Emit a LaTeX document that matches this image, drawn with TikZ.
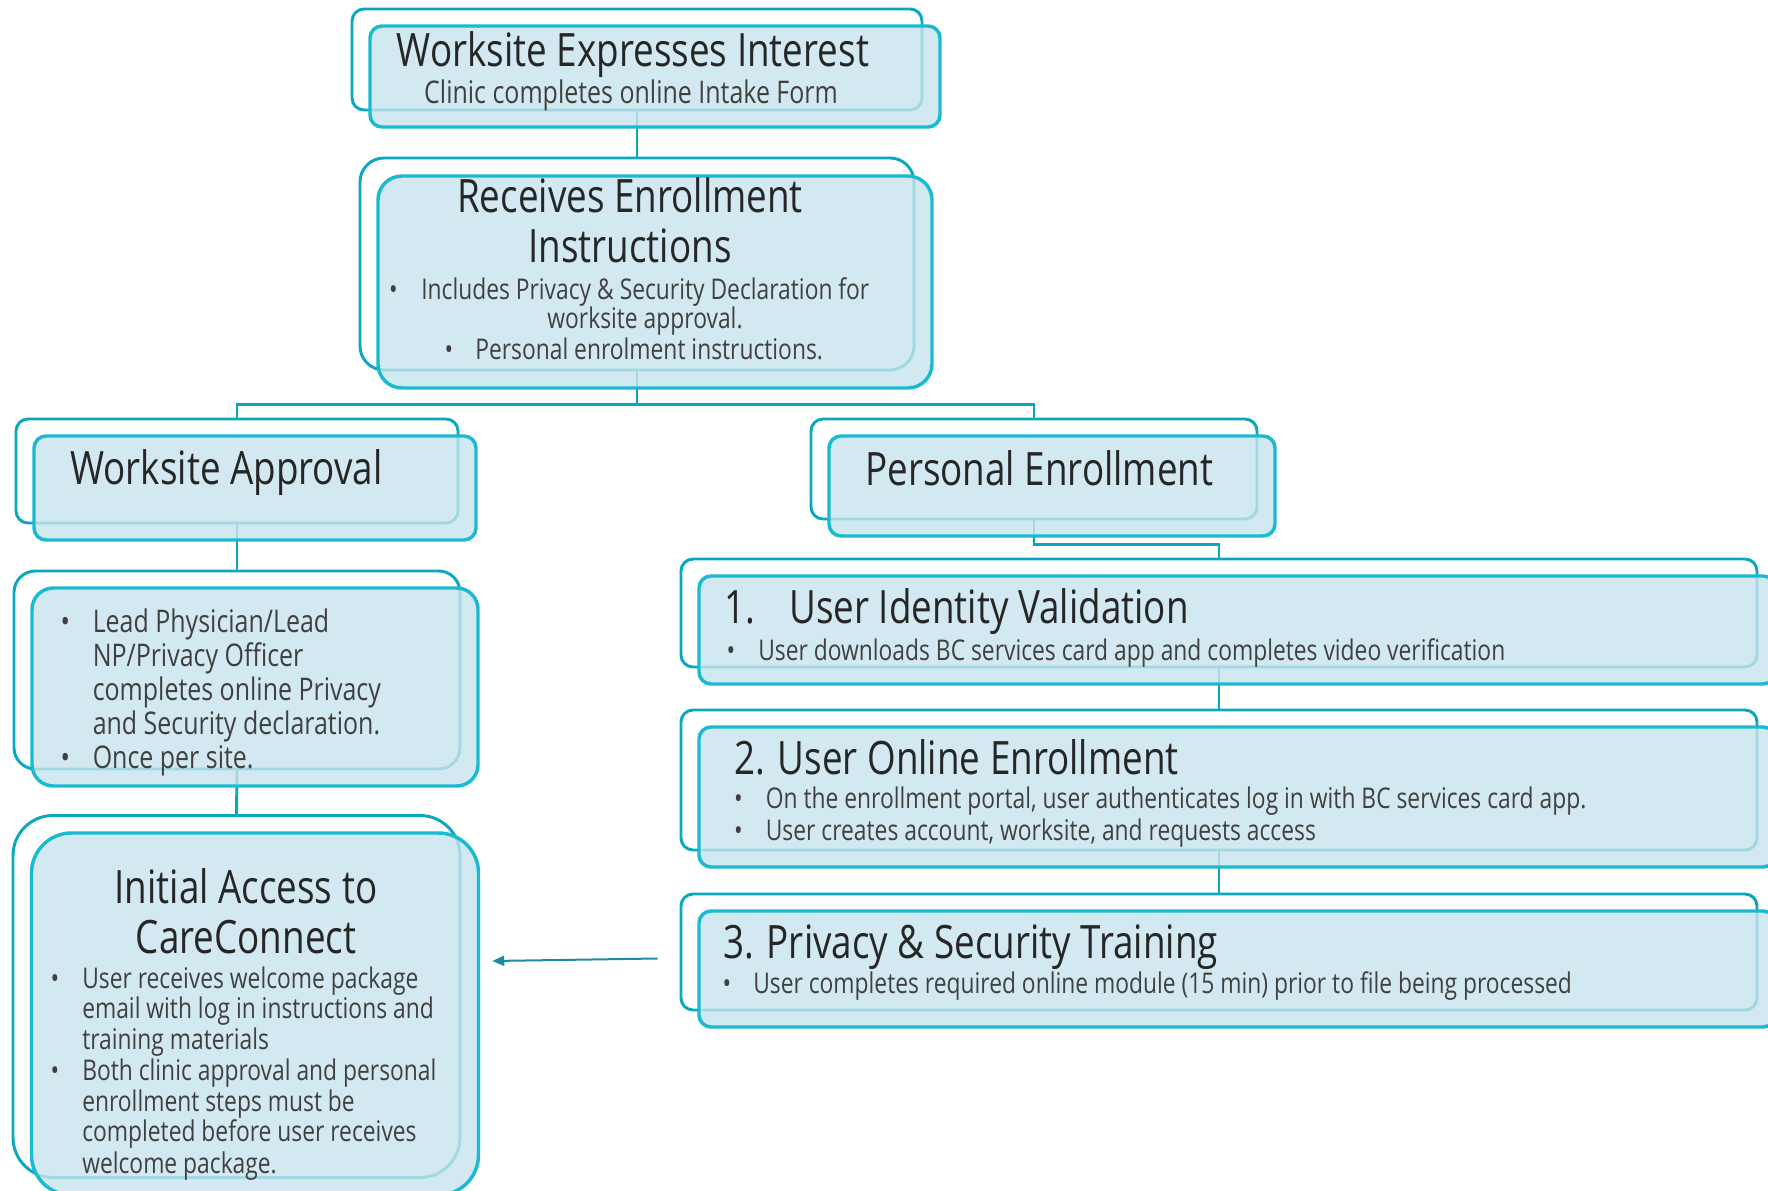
\documentclass[tikz,border=0pt]{standalone}
\usepackage{fontspec}
\setmainfont{Open Sans}[FakeStretch=0.8]
\usetikzlibrary{arrows.meta}

\definecolor{edgeback}{RGB}{10,168,192}
\definecolor{edgefront}{RGB}{26,186,210}
\definecolor{boxfill}{RGB}{200,228,238}
\definecolor{arrowcol}{RGB}{30,140,160}
\definecolor{inkdark}{RGB}{38,38,38}
\definecolor{inkbody}{RGB}{64,64,64}

\newcommand{\headfont}{\fontsize{34.5}{40}\selectfont}
\newcommand{\leadfont}{\fontsize{23.4}{28}\selectfont}
\newcommand{\notefont}{\fontsize{21.4}{26}\selectfont}
\newcommand{\stepfont}{\fontsize{21.4}{26}\selectfont}

\begin{document}
\begin{tikzpicture}[x=0.75pt,y=0.75pt,yscale=-1,xscale=1,
  backbox/.style={draw=edgeback, line width=2.2pt, rectangle, inner sep=0pt},
  frontbox/.style={draw=edgefront, line width=2.6pt, fill=boxfill, fill opacity=0.8, rectangle, inner sep=0pt},
  link/.style={draw=edgeback, line width=2.2pt},
  flowarrow/.style={draw=arrowcol, line width=1.5pt, -{Triangle[length=9pt,width=7.5pt]}},
  boxhead/.style={font=\headfont, text=inkdark, inner sep=0pt},
  boxlead/.style={font=\leadfont, text=inkbody, inner sep=0pt},
  boxnote/.style={font=\notefont, text=inkbody, inner sep=0pt},
  boxstep/.style={font=\stepfont, text=inkbody, inner sep=0pt}]
\fill[white] (0,0) rectangle (1768,1191);
\useasboundingbox (0,0) rectangle (1768,1191);

%Rounded Rect, back outlines
\node [backbox, rounded corners=9pt, minimum width=427.5pt, minimum height=75.75pt] (interestB) at (637,59.5) {};
\node [backbox, rounded corners=18pt, minimum width=415.5pt, minimum height=159pt] (receivesB) at (637,264) {};
\node [backbox, rounded corners=9pt, minimum width=331.5pt, minimum height=78pt] (approvalB) at (237,471) {};
\node [backbox, rounded corners=16pt, minimum width=334.5pt, minimum height=148.5pt] (declareB) at (237,670) {};
\node [backbox, rounded corners=30pt, minimum width=335.25pt, minimum height=271.5pt] (accessB) at (236.5,996.5) {};
\node [backbox, rounded corners=9pt, minimum width=334.5pt, minimum height=75pt] (personalB) at (1034,469) {};
\node [backbox, rounded corners=9pt, minimum width=807pt, minimum height=81pt] (identityB) at (1219,613) {};
\node [backbox, rounded corners=9pt, minimum width=807pt, minimum height=105pt] (onlineB) at (1219,780) {};
\node [backbox, rounded corners=9pt, minimum width=807pt, minimum height=87pt] (trainingB) at (1219,952) {};

%Straight Lines
\draw [link] (interestB.south) -- (receivesB.north);
\draw [link] (receivesB.south) -- ++(0,33) -| (approvalB.north);
\draw [link] (receivesB.south) -- ++(0,33) -| (personalB.north);
\draw [link] (approvalB.south) -- (declareB.north);
\draw [link] (declareB.south) -- (accessB.north);
\draw [link] (personalB.south) -- ++(0,24) -| (identityB.north);
\draw [link] (identityB.south) -- (onlineB.north);
\draw [link] (onlineB.south) -- (trainingB.north);

%Rounded Rect, front panels
\node [frontbox, rounded corners=9pt, minimum width=427.5pt, minimum height=75.75pt] (interestF) at (655,76.5) {};
\node [frontbox, rounded corners=18pt, minimum width=415.5pt, minimum height=159pt] (receivesF) at (655,282) {};
\node [frontbox, rounded corners=9pt, minimum width=331.5pt, minimum height=78pt] (approvalF) at (255,488) {};
\node [frontbox, rounded corners=16pt, minimum width=334.5pt, minimum height=148.5pt] (declareF) at (255,687) {};
\node [frontbox, rounded corners=30pt, minimum width=335.25pt, minimum height=271.5pt] (accessF) at (255,1014) {};
\node [frontbox, rounded corners=9pt, minimum width=334.5pt, minimum height=75pt] (personalF) at (1052,486) {};
\node [frontbox, rounded corners=9pt, minimum width=807pt, minimum height=81pt] (identityF) at (1237,630) {};
\node [frontbox, rounded corners=9pt, minimum width=807pt, minimum height=105pt] (onlineF) at (1237,797) {};
\node [frontbox, rounded corners=9pt, minimum width=807pt, minimum height=87pt] (trainingF) at (1237,969) {};

%Straight Lines, arrow
\draw [flowarrow] ([shift={(-22,6.5)}]trainingB.west) -- ([shift={(12,-53)}]accessF.east);

% Text Node
\draw (633,66.5) node [anchor=base][boxhead] (interestT) {Worksite Expresses Interest};
% Text Node
\draw (631,103.5) node [anchor=base][boxlead] (interestS) {Clinic completes online Intake Form};
% Text Node
\draw (630,213) node [anchor=base][boxhead] (receivesT) {Receives Enrollment};
\draw (630,263) node [anchor=base][boxhead] (receivesT2) {Instructions};
% Text Node
\draw (393.5,300) node [anchor=base][boxnote] (receivesD1) {•};
\draw (421,300) node [anchor=base west][boxnote] (receivesL1) {Includes Privacy \& Security Declaration for};
\draw (645,329) node [anchor=base][boxnote] (receivesL2) {worksite approval.};
\draw (449,359.5) node [anchor=base][boxnote] (receivesD2) {•};
\draw (475,359.5) node [anchor=base west][boxnote] (receivesL3) {Personal enrolment instructions.};
% Text Node
\draw (70,484) node [anchor=base west][boxhead] (approvalT) {Worksite Approval};
% Text Node
\draw (65.4,632) node [anchor=base][boxlead] (declareD1) {•};
\draw (92.5,632) node [anchor=base west][boxlead] (declareL1) {Lead Physician/Lead};
\draw (92.5,666) node [anchor=base west][boxlead] (declareL2) {NP/Privacy Officer};
\draw (92.5,700) node [anchor=base west][boxlead] (declareL3) {completes online Privacy};
\draw (92.5,734) node [anchor=base west][boxlead] (declareL4) {and Security declaration.};
\draw (65.4,768) node [anchor=base][boxlead] (declareD2) {•};
\draw (92.5,768) node [anchor=base west][boxlead] (declareL5) {Once per site.};
% Text Node
\draw (246,903) node [anchor=base][boxhead] (accessT) {Initial Access to};
\draw (246,953) node [anchor=base][boxhead] (accessT2) {CareConnect};
\draw (55,988) node [anchor=base][boxnote] (accessD1) {•};
\draw (82,988) node [anchor=base west][boxnote] (accessL1) {User receives welcome package};
\draw (82,1018) node [anchor=base west][boxnote] (accessL2) {email with log in instructions and};
\draw (82,1049) node [anchor=base west][boxnote] (accessL3) {training materials};
\draw (55,1080) node [anchor=base][boxnote] (accessD2) {•};
\draw (82,1080) node [anchor=base west][boxnote] (accessL4) {Both clinic approval and personal};
\draw (82,1111) node [anchor=base west][boxnote] (accessL5) {enrollment steps must be};
\draw (82,1141) node [anchor=base west][boxnote] (accessL6) {completed before user receives};
\draw (82,1173) node [anchor=base west][boxnote] (accessL7) {welcome package.};
% Text Node
\draw (865,485) node [anchor=base west][boxhead] (personalT) {Personal Enrollment};
% Text Node
\draw (724,623.5) node [anchor=base west][boxhead] (identityN) {1.};
\draw (789,623.5) node [anchor=base west][boxhead] (identityT) {User Identity Validation};
\draw (731,660) node [anchor=base][boxstep] (identityD1) {•};
\draw (758,660) node [anchor=base west][boxstep] (identityL1) {User downloads BC services card app and completes video verification};
% Text Node
\draw (734,774.6) node [anchor=base west][boxhead] (onlineT) {2. User Online Enrollment};
\draw (738.5,808.5) node [anchor=base][boxstep] (onlineD1) {•};
\draw (765.6,808.5) node [anchor=base west][boxstep] (onlineL1) {On the enrollment portal, user authenticates log in with BC services card app.};
\draw (738.5,840.5) node [anchor=base][boxstep] (onlineD2) {•};
\draw (765.6,840.5) node [anchor=base west][boxstep] (onlineL2) {User creates account, worksite, and requests access};
% Text Node
\draw (723,958.5) node [anchor=base west][boxhead] (trainingT) {3. Privacy \& Security Training};
\draw (727,993.5) node [anchor=base][boxstep] (trainingD1) {•};
\draw (753,993.5) node [anchor=base west][boxstep] (trainingL1) {User completes required online module (15 min) prior to file being processed};
\end{tikzpicture}
\end{document}
